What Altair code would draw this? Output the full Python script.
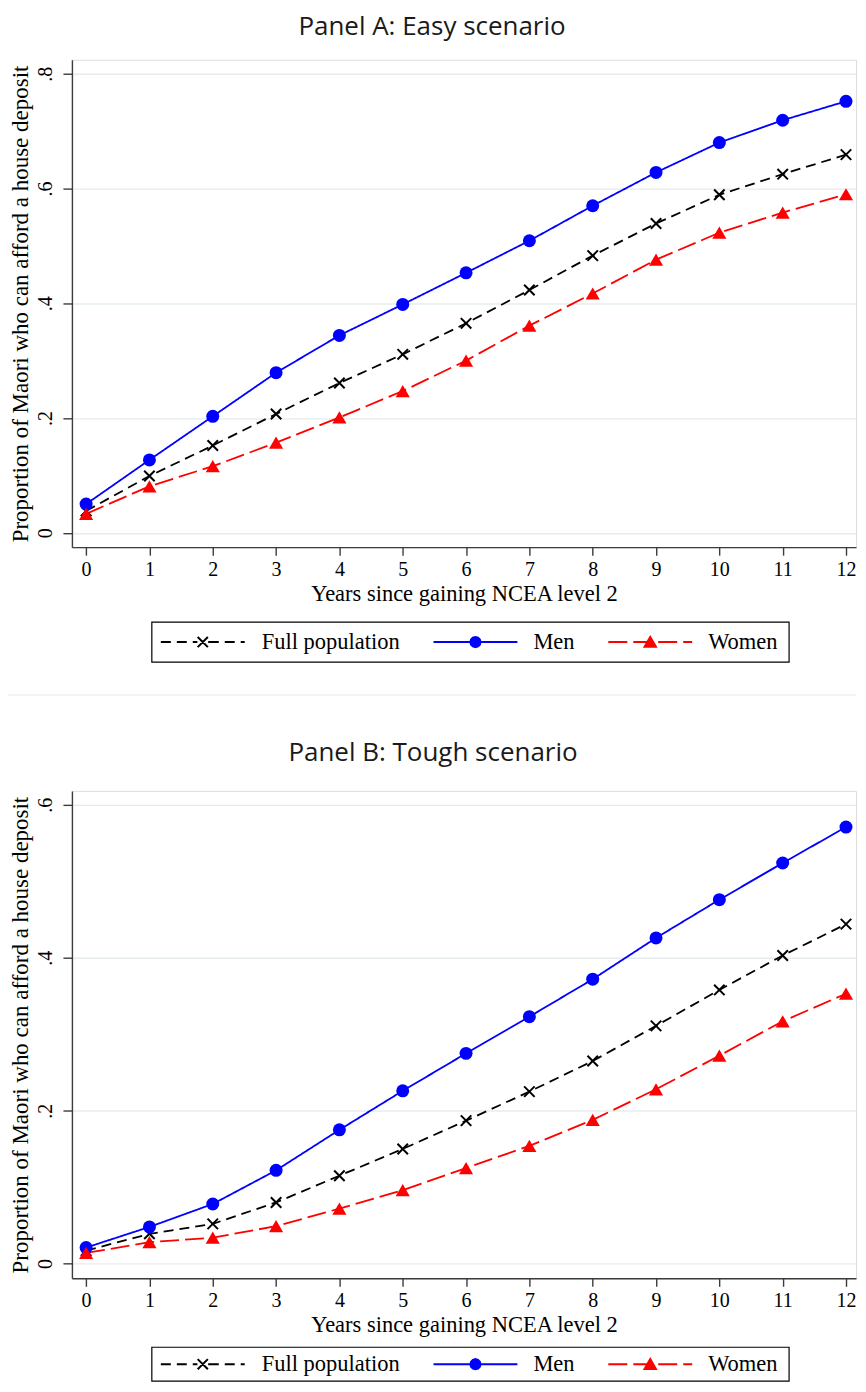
import altair as alt
import pandas as pd

YEARS = list(range(13))
SERIES = ["Full population", "Men", "Women"]
COLORS = ["#000000", "#0000ff", "#ff0000"]

EASY_FULL = [0.038, 0.099, 0.152, 0.207, 0.261, 0.311, 0.365, 0.423, 0.483, 0.539, 0.589, 0.625, 0.659]
EASY_MEN = [0.050, 0.127, 0.203, 0.279, 0.344, 0.398, 0.453, 0.509, 0.570, 0.628, 0.680, 0.719, 0.752]
EASY_WOMEN = [0.033, 0.081, 0.116, 0.157, 0.201, 0.247, 0.300, 0.361, 0.417, 0.476, 0.523, 0.558, 0.590]

TOUGH_FULL = [0.017, 0.039, 0.052, 0.080, 0.115, 0.150, 0.187, 0.225, 0.265, 0.311, 0.358, 0.403, 0.444]
TOUGH_MEN = [0.021, 0.048, 0.078, 0.122, 0.175, 0.226, 0.275, 0.323, 0.372, 0.426, 0.476, 0.524, 0.571]
TOUGH_WOMEN = [0.014, 0.028, 0.034, 0.049, 0.072, 0.096, 0.125, 0.154, 0.188, 0.228, 0.272, 0.317, 0.353]

EASY_TICKS = [0, 0.2, 0.4, 0.6, 0.8]
TOUGH_TICKS = [0, 0.2, 0.4, 0.6]

X_TITLE = "Years since gaining NCEA level 2"
Y_TITLE = "Proportion of Maori who can afford a house deposit"

SERIF = "Liberation Serif"
AXIS_COLOR = "#3c3c3c"
GRID_COLOR = "#e6ecee"

X_PATH = "M-1,-1L1,1M-1,1L1,-1"

# legend keys: line segment + marker drawn as one symbol path (unit = half marker size)
LEG_FULL = ("M-7,0H-5.33M-4.33,0H-2.67M-1.67,0H-0.9M0.9,0H2.67M3.67,0H5.33M6.33,0H7"
            "M-0.85,-0.85L0.85,0.85M-0.85,0.85L0.85,-0.85")
LEG_MEN = ("M-7,0H7M0.85,0L0.736,0.425L0.425,0.736L0,0.85L-0.425,0.736L-0.736,0.425L-0.85,0"
           "L-0.736,-0.425L-0.425,-0.736L0,-0.85L0.425,-0.736L0.736,-0.425Z")
LEG_WOMEN = ("M-7,0H-3.83M-2.83,0H0.33M1.33,0H4.5M5.5,0H7"
             "M0,-0.85L0.95,0.8L-0.95,0.8Z")
LEG_PATHS = [LEG_FULL, LEG_MEN, LEG_WOMEN]

W, H = 785, 488
X_DOMAIN = [-0.224, 12.158]

# legend layout (pixels from the plot's top-left corner)
LEG_BOX_X = (80, 718)
LEG_SYM_X = [131, 404, 579]
LEG_LAB_X = [190, 462, 637]


def legend_layers(box_y, cy):
    ldf = pd.DataFrame({"series": SERIES})
    lb = alt.Chart(ldf)
    layers = [
        lb.transform_filter(alt.datum.series == SERIES[0]).mark_rect(
            fill="white", stroke="black", strokeWidth=1.2
        ).encode(
            x=alt.value(LEG_BOX_X[0]), x2=alt.value(LEG_BOX_X[1]),
            y=alt.value(box_y[0]), y2=alt.value(box_y[1]),
        )
    ]
    for s, c, path, sx, lx in zip(SERIES, COLORS, LEG_PATHS, LEG_SYM_X, LEG_LAB_X):
        one = lb.transform_filter(alt.datum.series == s)
        layers.append(
            one.mark_point(shape=path, size=144, filled=True, fill=c, stroke=c,
                           strokeWidth=2, opacity=1).encode(x=alt.value(sx), y=alt.value(cy))
        )
        layers.append(
            one.mark_text(align="left", baseline="middle", font=SERIF, fontSize=22.5,
                          color="black").encode(x=alt.value(lx), y=alt.value(cy), text="series:N")
        )
    return layers


def make_panel(title, full, men, women, ticks, ydomain, box_y, cy, title_offset, separator=False):
    rows = []
    for s, vals in zip(SERIES, [full, men, women]):
        for yr, v in zip(YEARS, vals):
            rows.append({"year": yr, "value": v, "series": s})
    df = pd.DataFrame(rows)
    base = alt.Chart(df)

    x = alt.X(
        "year:Q",
        scale=alt.Scale(domain=X_DOMAIN, nice=False, zero=False),
        axis=alt.Axis(
            values=YEARS, title=X_TITLE, grid=False, format="d",
            labelFont=SERIF, labelFontSize=20, labelColor="black", labelPadding=4,
            titleFont=SERIF, titleFontSize=22.5, titleFontWeight="normal", titleColor="black",
            titlePadding=3,
            domainColor=AXIS_COLOR, domainWidth=1.4, tickColor=AXIS_COLOR, tickWidth=1.4, tickSize=8,
        ),
    )
    y = alt.Y(
        "value:Q",
        scale=alt.Scale(domain=ydomain, nice=False, zero=False),
        axis=alt.Axis(
            values=ticks, title=Y_TITLE, grid=True, gridColor=GRID_COLOR, gridWidth=1.4,
            labelExpr="datum.value == 0 ? '0' : replace(format(datum.value, '.1f'), '0.', '.')",
            labelAngle=270, labelAlign="center", labelBaseline="bottom",
            labelFont=SERIF, labelFontSize=20, labelColor="black", labelPadding=7,
            titleFont=SERIF, titleFontSize=23, titleFontWeight="normal", titleColor="black",
            titlePadding=3,
            domainColor=AXIS_COLOR, domainWidth=1.4, tickColor=AXIS_COLOR, tickWidth=1.4, tickSize=9,
        ),
    )

    lines = base.mark_line(strokeWidth=1.8).encode(
        x=x, y=y,
        color=alt.Color("series:N", scale=alt.Scale(domain=SERIES, range=COLORS), legend=None),
        strokeDash=alt.StrokeDash(
            "series:N", scale=alt.Scale(domain=SERIES, range=[[10, 6], [1, 0], [19, 6]]), legend=None
        ),
    )
    pts_full = base.transform_filter(alt.datum.series == SERIES[0]).mark_point(
        shape=X_PATH, filled=False, size=110, strokeWidth=2, color="black", opacity=1
    ).encode(x=x, y=y)
    pts_men = base.transform_filter(alt.datum.series == SERIES[1]).mark_point(
        shape="circle", filled=True, size=169, color="#0000ff", opacity=1
    ).encode(x=x, y=y)
    pts_women = base.transform_filter(alt.datum.series == SERIES[2]).mark_point(
        shape="triangle-up", filled=True, size=200, color="#ff0000", opacity=1
    ).encode(x=x, y=y)

    layers = [lines, pts_full, pts_men, pts_women] + legend_layers(box_y, cy)
    if separator:
        sep = alt.Chart(pd.DataFrame({"series": SERIES[:1]})).mark_rule(
            color="#e6ebeb", strokeWidth=1.2
        ).encode(x=alt.value(-64), x2=alt.value(W), y=alt.value(636))
        layers.append(sep)

    return alt.layer(*layers).properties(
        width=W, height=H,
        title=alt.TitleParams(
            title, font="Open Sans", fontSize=26, fontWeight="normal", color="#1a1a1a",
            anchor="middle", frame="bounds", offset=title_offset,
        ),
    )


panel_a = make_panel("Panel A: Easy scenario", EASY_FULL, EASY_MEN, EASY_WOMEN,
                     EASY_TICKS, [-0.0251, 0.8244], (563, 603), 583, 20.2, separator=True)
panel_b = make_panel("Panel B: Tough scenario", TOUGH_FULL, TOUGH_MEN, TOUGH_WOMEN,
                     TOUGH_TICKS, [-0.0192, 0.6183], (557, 591), 574, 24.8)

chart = alt.vconcat(panel_a, panel_b, spacing=42).properties(
    padding={"left": -2, "top": 4, "right": 0, "bottom": 0}
).configure_view(stroke=None).configure(background="white")

chart.save("out.html", embed_options={"renderer": "svg", "actions": False})
